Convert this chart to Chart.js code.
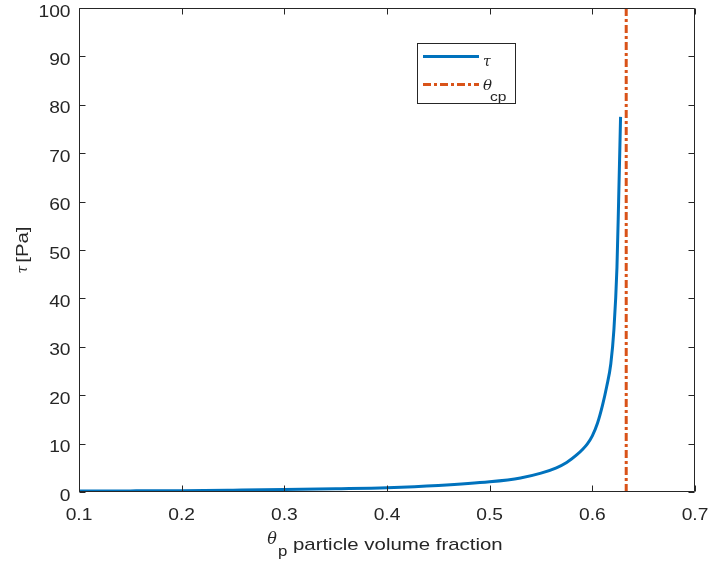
<!DOCTYPE html>
<html>
<head>
<meta charset="utf-8">
<script src="https://cdn.jsdelivr.net/npm/chart.js@4"></script>
<style>
html,body{margin:0;padding:0;background:#fff;}
#wrap{width:708px;height:564px;position:relative;}
</style>
</head>
<body>
<div id="wrap"><canvas id="c"></canvas></div>
<script>
// Data
const thetaP = [0.10, 0.15, 0.20, 0.25, 0.30, 0.35, 0.40, 0.45, 0.50, 0.53, 0.55, 0.565, 0.575, 0.585, 0.595, 0.60, 0.605, 0.61, 0.614, 0.618, 0.621, 0.624, 0.6256, 0.6275];
const tauPa  = [0.2, 0.23, 0.28, 0.38, 0.5, 0.68, 0.9, 1.35, 2.1, 2.9, 3.9, 5.0, 6.1, 7.7, 9.9, 11.6, 14.2, 18.0, 21.8, 26.5, 33.5, 46.5, 60.0, 77.5];
const thetaCp = 0.633;
const cpLineY = [0, 100];
const xTicks = [0.1, 0.2, 0.3, 0.4, 0.5, 0.6, 0.7];
const yTicks = [0, 10, 20, 30, 40, 50, 60, 70, 80, 90, 100];
const xTickLabels = ['0.1', '0.2', '0.3', '0.4', '0.5', '0.6', '0.7'];
const yTickLabels = ['0', '10', '20', '30', '40', '50', '60', '70', '80', '90', '100'];

const BLUE = '#0072BD';
const ORANGE = '#D95319';
const AXC = '#262626';
const FONT = "'Liberation Sans', Arial, Helvetica, sans-serif";
const SERIF_IT = "'DejaVu Serif', serif";
const SX = 1.2; // glyph widening seen in the reference text

const curve = thetaP.map((x, i) => ({x, y: tauPa[i]}));
const cpLine = cpLineY.map(y => ({x: thetaCp, y}));

function wtext(ctx, str, x, y, align) {
  const w = ctx.measureText(str).width * SX;
  let x0 = x;
  if (align === 'center') x0 = x - w / 2;
  else if (align === 'right') x0 = x - w;
  ctx.save();
  ctx.translate(x0, y);
  ctx.scale(SX, 1);
  ctx.textAlign = 'left';
  ctx.fillText(str, 0, 0);
  ctx.restore();
  return w;
}
function wwidth(ctx, str) { return ctx.measureText(str).width * SX; }

const framePlugin = {
  id: 'frame',
  afterDatasetsDraw(chart) {
    const {ctx, chartArea: a, scales} = chart;
    const L = Math.round(a.left) + 0.5, R = Math.round(a.right) - 0.5;
    const T = Math.round(a.top) + 0.5, B = Math.round(a.bottom) - 0.5;
    ctx.save();
    ctx.strokeStyle = AXC;
    ctx.lineWidth = 1;
    ctx.beginPath();
    ctx.rect(L, T, R - L, B - T);
    const tl = 6;
    xTicks.forEach(v => {
      const px = Math.round(scales.x.getPixelForValue(v)) + 0.5;
      ctx.moveTo(px, B); ctx.lineTo(px, B - tl);
      ctx.moveTo(px, T); ctx.lineTo(px, T + tl);
    });
    yTicks.forEach(v => {
      const py = Math.round(scales.y.getPixelForValue(v)) + 0.5;
      ctx.moveTo(L, py); ctx.lineTo(L + tl, py);
      ctx.moveTo(R, py); ctx.lineTo(R - tl, py);
    });
    ctx.stroke();

    // tick labels
    ctx.fillStyle = AXC;
    ctx.textBaseline = 'alphabetic';
    ctx.font = "16px " + FONT;
    xTicks.forEach((v, i) => {
      wtext(ctx, xTickLabels[i], scales.x.getPixelForValue(v), 519.5, 'center');
    });
    yTicks.forEach((v, i) => {
      wtext(ctx, yTickLabels[i], 70.5, scales.y.getPixelForValue(v) + 8.5, 'right');
    });

    // x axis title: θ_p particle volume fraction
    const fTheta = "italic 16px " + SERIF_IT;
    const fSub = "14px " + FONT;
    const fMain = "17px " + FONT;
    ctx.font = fTheta; const wT = ctx.measureText('θ').width + 1;
    ctx.font = fSub; const wP = wwidth(ctx, 'p');
    ctx.font = fMain; const wM = wwidth(ctx, ' particle volume fraction');
    let x0 = (a.left + a.right) / 2 - (wT + wP + wM) / 2 - 2;
    ctx.font = fTheta; ctx.fillText('θ', x0, 544); x0 += wT;
    ctx.font = fSub; wtext(ctx, 'p', x0, 556, 'left'); x0 += wP;
    ctx.font = fMain; wtext(ctx, ' particle volume fraction', x0, 549.5, 'left');

    // y axis title: τ [Pa]
    ctx.save();
    ctx.translate(28, (a.top + a.bottom) / 2);
    ctx.rotate(-Math.PI / 2);
    const fTau = "italic 14px " + SERIF_IT;
    ctx.font = fTau; const wTau = ctx.measureText('τ').width + 3;
    ctx.font = fMain; const wPa = wwidth(ctx, '[Pa]');
    let y0 = -(wTau + wPa) / 2;
    ctx.font = fTau; ctx.fillText('τ', y0, -1); y0 += wTau;
    ctx.font = fMain; wtext(ctx, '[Pa]', y0, 0, 'left');
    ctx.restore();

    // legend
    const lx = 417.5, ly = 43.5, lw = 98, lh = 60;
    ctx.fillStyle = '#fff';
    ctx.fillRect(lx, ly, lw, lh);
    ctx.strokeStyle = AXC;
    ctx.lineWidth = 1;
    ctx.strokeRect(lx, ly, lw, lh);
    ctx.lineWidth = 3;
    ctx.strokeStyle = BLUE;
    ctx.beginPath(); ctx.moveTo(423, 56.5); ctx.lineTo(479, 56.5); ctx.stroke();
    ctx.strokeStyle = ORANGE;
    ctx.setLineDash([8, 3, 3, 3]);
    ctx.beginPath(); ctx.moveTo(423, 84.5); ctx.lineTo(479, 84.5); ctx.stroke();
    ctx.setLineDash([]);
    ctx.fillStyle = AXC;
    ctx.font = "italic 14px " + SERIF_IT;
    ctx.fillText('τ', 483, 66);
    ctx.font = "italic 15px " + SERIF_IT;
    ctx.fillText('θ', 483, 90);
    ctx.font = "13px " + FONT;
    wtext(ctx, 'cp', 490, 101, 'left');
    ctx.restore();
  }
};

new Chart(document.getElementById('c'), {
  type: 'line',
  data: {
    datasets: [
      {label: 'τ', data: curve, borderColor: BLUE, borderWidth: 3, pointRadius: 0, fill: false, cubicInterpolationMode: 'monotone'},
      {label: 'θcp', data: cpLine, borderColor: ORANGE, borderWidth: 3, pointRadius: 0, fill: false, borderDash: [8, 3, 3, 3]}
    ]
  },
  options: {
    responsive: true,
    maintainAspectRatio: false,
    animation: false,
    layout: {padding: {left: 0, right: 13, top: 8, bottom: 0}},
    plugins: {legend: {display: false}, tooltip: {enabled: false}},
    scales: {
      x: {
        type: 'linear', min: 0.1, max: 0.7,
        afterBuildTicks: s => { s.ticks = xTicks.map(v => ({value: v})); },
        ticks: {display: false},
        grid: {display: false}, border: {display: false},
        afterFit: s => { s.height = 72; }
      },
      y: {
        type: 'linear', min: 0, max: 100,
        afterBuildTicks: s => { s.ticks = yTicks.map(v => ({value: v})); },
        ticks: {display: false},
        grid: {display: false}, border: {display: false},
        afterFit: s => { s.width = 79; }
      }
    }
  },
  plugins: [framePlugin]
});
</script>
</body>
</html>
